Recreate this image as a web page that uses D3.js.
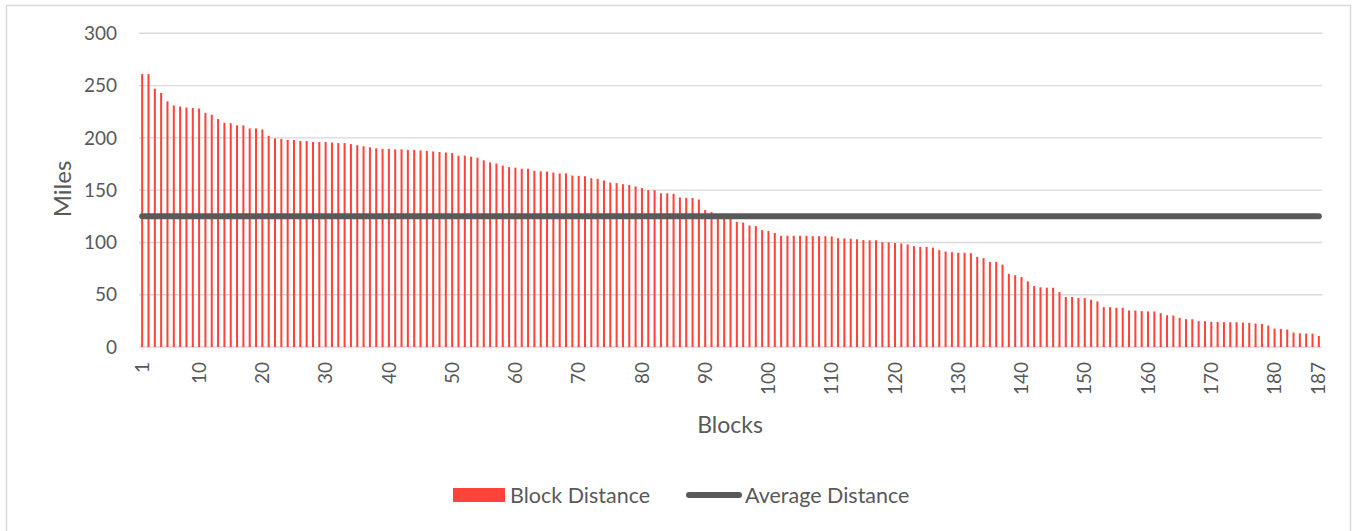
<!DOCTYPE html>
<html>
<head>
<meta charset="utf-8">
<script src="https://cdn.jsdelivr.net/npm/d3@7"></script>
<style>
  body { margin: 0; background: #fff; }
  text { font-family: Lato, "Open Sans", sans-serif; fill: #595959; }
</style>
</head>
<body>
<div id="chart"></div>
<script>
// block distances in miles, block 1..187
const distances = [
  261, 261, 247, 243, 235, 231, 230, 229, 228.5, 228,
  224, 222, 218, 214.5, 214, 212, 212, 209, 209, 208,
  202, 199.5, 199, 198, 198, 197, 197, 196, 196, 196,
  195.5, 195, 195, 194, 193, 192, 191, 190, 189.5, 189.5,
  189, 189, 188.5, 188.5, 188, 187.5, 187, 186.5, 186, 185.5,
  183, 183, 182, 181, 178.5, 176.5, 175.5, 173.5, 172, 171.5,
  170.5, 170.5, 168.5, 168, 167.8, 166.8, 166, 166, 164, 163.7,
  163.3, 161.4, 160.8, 159.2, 157.3, 156.7, 155.7, 155, 153.5, 152,
  150, 150, 147, 147, 146.5, 143, 142.7, 142.4, 141, 131,
  129, 127, 125, 123, 119.7, 119, 116.2, 115.6, 111.8, 111,
  109, 106.4, 106.4, 106.4, 106.4, 106.4, 106, 106, 106, 105.7,
  104, 103.8, 103.5, 103, 102.2, 102, 102, 100.3, 100, 99.4,
  99, 98, 96.5, 95.8, 95.8, 95, 92.6, 91.3, 90.7, 90.1,
  90.1, 89.7, 86.2, 85, 81.4, 81.4, 78.8, 70, 68.6, 67,
  62.8, 58.3, 57.1, 56.7, 56.7, 52.6, 47.8, 47.8, 46.8, 46.8,
  45.2, 43.6, 38.1, 38.1, 37.5, 37.5, 34.9, 34.9, 34.3, 34,
  34, 32.4, 30.4, 30.1, 27.9, 26.6, 26.6, 24.7, 24.7, 24,
  24, 23.7, 23.7, 23.7, 23.4, 23.1, 22.4, 22.1, 20.5, 17.6,
  17.3, 16.7, 13.8, 13.1, 12.8, 12.8, 10.6
];
const blocks = distances.map((d, i) => i + 1);
const average = 125;
const yTicks = [0, 50, 100, 150, 200, 250, 300];
const xTickLabels = [1, 10, 20, 30, 40, 50, 60, 70, 80, 90, 100, 110, 120, 130, 140, 150, 160, 170, 180, 187];

const width = 1354, height = 531;
const plot = {left: 139, right: 1322, top: 33.3, bottom: 347};
const barColor = "#ff4339", lineColor = "#595959", gridColor = "#d9d9d9";

const svg = d3.select("#chart").append("svg")
    .attr("width", width)
    .attr("height", height);

// chart border (bottom edge falls outside the picture)
svg.append("rect")
    .attr("x", 6.5).attr("y", 5.5)
    .attr("width", 1344).attr("height", 540)
    .attr("fill", "none")
    .attr("stroke", gridColor)
    .attr("stroke-width", 1.5);

const x = d3.scaleBand()
    .domain(blocks)
    .range([plot.left, plot.right])
    .paddingInner(0.68)
    .paddingOuter(0.34);

const y = d3.scaleLinear()
    .domain([0, 300])
    .range([plot.bottom, plot.top]);

// gridlines
svg.append("g")
    .selectAll("line")
    .data(yTicks)
    .enter().append("line")
    .attr("x1", plot.left).attr("x2", plot.right)
    .attr("y1", d => y(d)).attr("y2", d => y(d))
    .attr("stroke", gridColor)
    .attr("stroke-width", 1.4);

// y tick labels
svg.append("g")
    .selectAll("text")
    .data(yTicks)
    .enter().append("text")
    .attr("x", 117)
    .attr("y", d => y(d))
    .attr("dy", "0.35em")
    .attr("text-anchor", "end")
    .style("font-size", "19px")
    .text(d => d);

// bars
svg.append("g")
    .selectAll("rect")
    .data(distances)
    .enter().append("rect")
    .attr("x", (d, i) => x(blocks[i]))
    .attr("width", x.bandwidth())
    .attr("y", d => y(d))
    .attr("height", d => y(0) - y(d))
    .attr("fill", barColor);

// average line
svg.append("line")
    .attr("x1", x(blocks[0]) + x.bandwidth() / 2)
    .attr("x2", x(blocks[blocks.length - 1]) + x.bandwidth() / 2)
    .attr("y1", y(average)).attr("y2", y(average))
    .attr("stroke", lineColor)
    .attr("stroke-width", 6)
    .attr("stroke-linecap", "round");

// x tick labels (rotated)
svg.append("g")
    .selectAll("text")
    .data(xTickLabels)
    .enter().append("text")
    .attr("transform", d => "translate(" + (x(d) + x.bandwidth() / 2) + ",362) rotate(-90)")
    .attr("dy", "0.35em")
    .attr("text-anchor", "end")
    .style("font-size", "19px")
    .text(d => d);

// axis titles
svg.append("text")
    .attr("transform", "translate(63,189) rotate(-90)")
    .attr("dy", "0.35em")
    .attr("text-anchor", "middle")
    .style("font-size", "24px")
    .text("Miles");

svg.append("text")
    .attr("x", 730).attr("y", 425)
    .attr("dy", "0.35em")
    .attr("text-anchor", "middle")
    .style("font-size", "23px")
    .text("Blocks");

// legend
const legend = svg.append("g");
legend.append("rect")
    .attr("x", 453).attr("y", 488)
    .attr("width", 52).attr("height", 14)
    .attr("fill", barColor);
legend.append("text")
    .attr("x", 510).attr("y", 495)
    .attr("dy", "0.35em")
    .style("font-size", "21.5px")
    .text("Block Distance");
legend.append("line")
    .attr("x1", 689).attr("x2", 739)
    .attr("y1", 495).attr("y2", 495)
    .attr("stroke", lineColor)
    .attr("stroke-width", 6)
    .attr("stroke-linecap", "round");
legend.append("text")
    .attr("x", 745).attr("y", 495)
    .attr("dy", "0.35em")
    .style("font-size", "21.5px")
    .text("Average Distance");
</script>
</body>
</html>
